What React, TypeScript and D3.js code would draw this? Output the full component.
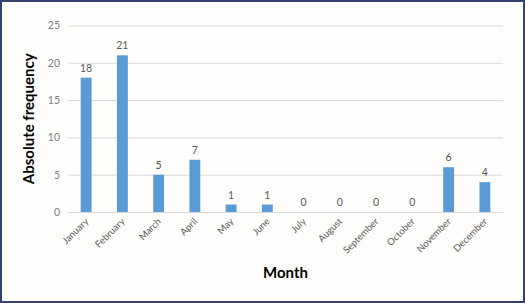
import * as d3 from 'd3';
import { useRef, useEffect } from 'react';

const months = ['January', 'February', 'March', 'April', 'May', 'June', 'July', 'August', 'September', 'October', 'November', 'December'];
const counts = [18, 21, 5, 7, 1, 1, 0, 0, 0, 0, 6, 4];
const yTicks = [0, 5, 10, 15, 20, 25];

export default function App() {
  const ref = useRef<SVGSVGElement>(null);

  useEffect(() => {
    const width = 525;
    const height = 303;
    const marginLeft = 68;
    const marginRight = 22;
    const marginTop = 25.5;
    const marginBottom = 91;
    const font = "Lato, 'Open Sans', sans-serif";

    const x = d3.scaleBand()
      .domain(months)
      .range([marginLeft, width - marginRight])
      .paddingInner(0.7)
      .paddingOuter(0.35);

    const y = d3.scaleLinear()
      .domain([0, 25])
      .range([height - marginBottom, marginTop]);

    const svg = d3.select(ref.current)
      .attr('width', width)
      .attr('height', height)
      .style('font-family', font);

    svg.selectAll('*').remove();

    // background + frame
    svg.append('rect')
      .attr('x', 1).attr('y', 1)
      .attr('width', width - 2).attr('height', height - 2)
      .attr('fill', '#fdfdfb')
      .attr('stroke', '#34406e')
      .attr('stroke-width', 2);

    // y grid + labels
    svg.append('g')
      .attr('transform', `translate(${marginLeft},0)`)
      .call(d3.axisLeft(y).tickValues(yTicks).tickSize(-(width - marginLeft - marginRight)).tickPadding(8))
      .call(g => g.select('.domain').remove())
      .call(g => g.selectAll('.tick line').attr('stroke', '#d9d9d9').attr('stroke-width', 1))
      .call(g => g.selectAll('.tick text')
        .attr('fill', '#7f7f7f')
        .style('font-size', '10.5px')
        .style('font-family', font));

    // bars
    svg.append('g')
      .selectAll('rect')
      .data(counts)
      .join('rect')
        .attr('x', (d, i) => x(months[i])!)
        .attr('y', d => y(d))
        .attr('width', x.bandwidth())
        .attr('height', d => y(0) - y(d))
        .attr('fill', '#5b9bd5');

    // value labels
    svg.append('g')
      .selectAll('text')
      .data(counts)
      .join('text')
        .attr('x', (d, i) => x(months[i])! + x.bandwidth() / 2)
        .attr('y', d => y(d) - 6)
        .attr('text-anchor', 'middle')
        .attr('fill', '#595959')
        .style('font-size', '10.5px')
        .text(d => d);

    // x labels
    svg.append('g')
      .attr('transform', `translate(0,${y(0)})`)
      .call(d3.axisBottom(x).tickSize(0).tickPadding(0))
      .call(g => g.select('.domain').remove())
      .call(g => g.selectAll('.tick text')
        .attr('fill', '#595959')
        .style('font-size', '9.5px')
        .style('font-family', font)
        .attr('text-anchor', 'end')
        .attr('dy', '0')
        .attr('transform', 'translate(3,10) rotate(-45)'));

    // axis titles
    svg.append('text')
      .attr('transform', `translate(34,${(y(0) + y(25)) / 2}) rotate(-90)`)
      .attr('text-anchor', 'middle')
      .attr('fill', '#000')
      .style('font-size', '15px')
      .style('font-weight', 'bold')
      .text('Absolute frequency');

    svg.append('text')
      .attr('x', (marginLeft + width - marginRight) / 2)
      .attr('y', 278)
      .attr('text-anchor', 'middle')
      .attr('fill', '#000')
      .style('font-size', '15px')
      .style('font-weight', 'bold')
      .text('Month');
  }, []);

  return (
    <div style={{ position: 'absolute', left: 0, top: 0 }}>
      <svg ref={ref} style={{ display: 'block' }}></svg>
    </div>
  );
}
